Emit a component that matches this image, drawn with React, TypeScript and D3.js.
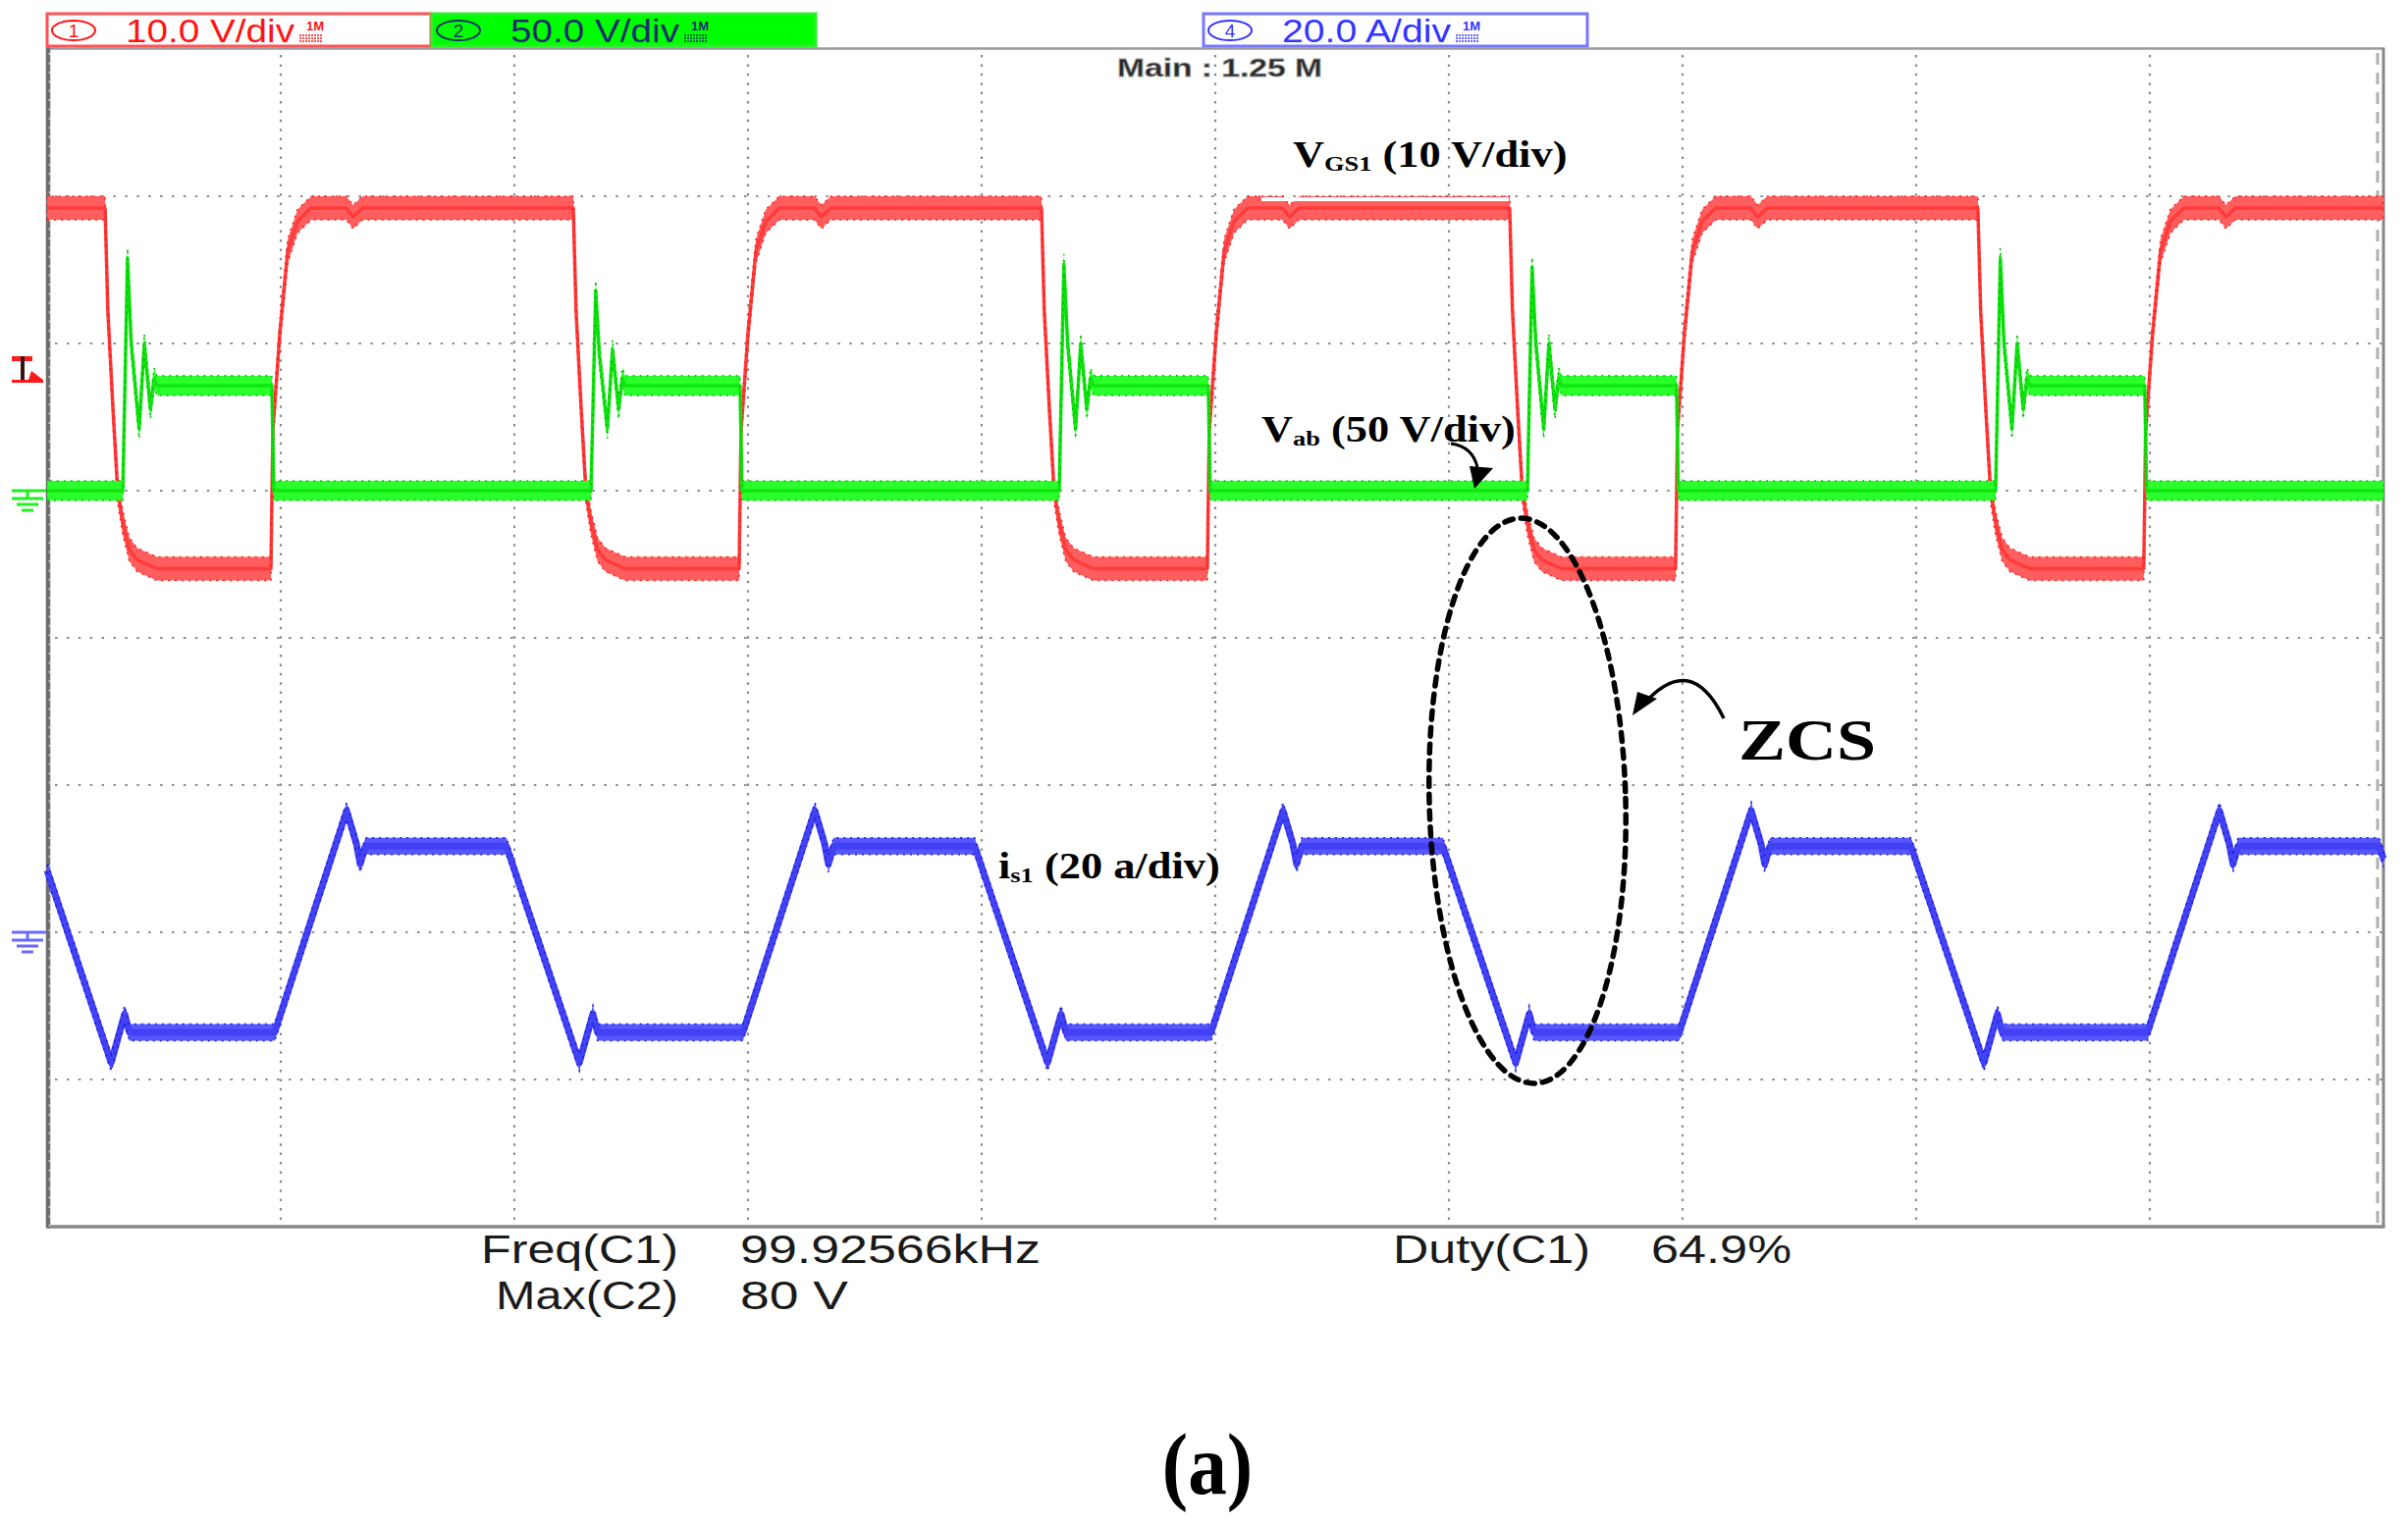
import * as d3 from "d3";

// scope screen: 10 div x 8 div, 5 us/div
const timeDomain = [0, 50];
const hGridDivs = [-3, -2, -1, 0, 1, 2, 3];
const vGridTimes = [5, 10, 15, 20, 25, 30, 35, 40, 45];

// channel settings (units per div, ground position in div from centre)
const channelNums = ["1", "2", "4"];
const channelScaleLabels = ["10.0 V/div", "50.0 V/div", "20.0 A/div"];
const channelScales = [10, 50, 20];
const channelGround = [1, 1, -2];

// C1: VGS1 [us, V]
const vgsPoints: [number, number][] = [
  [0, 19.2],
  [1.24, 19.2], [1.30, 12.2], [1.41, 5.5], [1.51, 0], [1.62, -2.2], [1.76, -4.0], [1.93, -4.7], [2.35, -5.3],
  [4.79, -5.3], [4.83, 4.0], [4.98, 10.7], [5.15, 16.3], [5.36, 18.3], [5.65, 19.2], [6.40, 19.2], [6.55, 18.6], [6.75, 19.2],
  [11.26, 19.2], [11.32, 12.2], [11.43, 5.5], [11.53, 0], [11.64, -2.2], [11.78, -4.0], [11.95, -4.7], [12.37, -5.3],
  [14.81, -5.3], [14.85, 4.0], [15.00, 10.7], [15.17, 16.3], [15.38, 18.3], [15.67, 19.2], [16.42, 19.2], [16.57, 18.6], [16.77, 19.2],
  [21.28, 19.2], [21.34, 12.2], [21.45, 5.5], [21.55, 0], [21.66, -2.2], [21.80, -4.0], [21.97, -4.7], [22.39, -5.3],
  [24.83, -5.3], [24.87, 4.0], [25.02, 10.7], [25.19, 16.3], [25.40, 18.3], [25.69, 19.2], [26.44, 19.2], [26.59, 18.6], [26.79, 19.2],
  [31.30, 19.2], [31.36, 12.2], [31.47, 5.5], [31.57, 0], [31.68, -2.2], [31.82, -4.0], [31.99, -4.7], [32.41, -5.3],
  [34.85, -5.3], [34.89, 4.0], [35.04, 10.7], [35.21, 16.3], [35.42, 18.3], [35.71, 19.2], [36.46, 19.2], [36.61, 18.6], [36.81, 19.2],
  [41.32, 19.2], [41.38, 12.2], [41.49, 5.5], [41.59, 0], [41.70, -2.2], [41.84, -4.0], [42.01, -4.7], [42.43, -5.3],
  [44.87, -5.3], [44.91, 4.0], [45.06, 10.7], [45.23, 16.3], [45.44, 18.3], [45.73, 19.2], [46.48, 19.2], [46.63, 18.6], [46.83, 19.2],
  [50, 19.2],
];

// C2: Vab [us, V]
const vabPoints: [number, number][] = [
  [0, 0],
  [1.62, 0], [1.72, 79], [1.80, 50], [1.97, 21], [2.08, 50], [2.21, 27.7], [2.29, 38.3], [2.35, 35.7], [4.81, 35.7], [4.85, 0],
  [11.64, 0], [11.74, 68], [11.82, 46], [11.99, 21], [12.10, 48], [12.23, 27.7], [12.31, 38.3], [12.37, 35.7], [14.83, 35.7], [14.87, 0],
  [21.66, 0], [21.76, 77], [21.84, 50], [22.01, 21], [22.12, 50], [22.25, 27.7], [22.33, 38.3], [22.39, 35.7], [24.85, 35.7], [24.89, 0],
  [31.68, 0], [31.78, 76], [31.86, 50], [32.03, 21], [32.14, 50], [32.27, 27.7], [32.35, 38.3], [32.41, 35.7], [34.87, 35.7], [34.91, 0],
  [41.70, 0], [41.80, 79], [41.88, 50], [42.05, 21], [42.16, 50], [42.29, 27.7], [42.37, 38.3], [42.43, 35.7], [44.89, 35.7], [44.93, 0],
  [50, 0],
];

// C4: is1 [us, A]
const isPoints: [number, number][] = [
  [0, 8.4],
  [1.37, -17.7], [1.66, -11.1], [1.76, -13.6], [4.87, -13.6], [6.41, 16.5], [6.62, 12.0], [6.70, 9.3], [6.81, 11.7], [9.83, 11.7],
  [11.39, -17.7], [11.68, -11.1], [11.78, -13.6], [14.89, -13.6], [16.43, 16.5], [16.64, 12.0], [16.72, 9.3], [16.83, 11.7], [19.85, 11.7],
  [21.41, -17.7], [21.70, -11.1], [21.80, -13.6], [24.91, -13.6], [26.45, 16.5], [26.66, 12.0], [26.74, 9.3], [26.85, 11.7], [29.87, 11.7],
  [31.43, -17.7], [31.72, -11.1], [31.82, -13.6], [34.93, -13.6], [36.47, 16.5], [36.68, 12.0], [36.76, 9.3], [36.87, 11.7], [39.89, 11.7],
  [41.45, -17.7], [41.74, -11.1], [41.84, -13.6], [44.95, -13.6], [46.49, 16.5], [46.70, 12.0], [46.78, 9.3], [46.89, 11.7], [49.91, 11.7],
  [50, 10.0],
];

// measurement readout
const measLabels = ["Freq(C1)", "Max(C2)", "Duty(C1)"];
const measValues = ["99.92566kHz", "80 V", "64.9%"];

const W = 2453;
const H = 1555;
const L = 48, R = 2428, T = 50, B = 1250;

function HeaderBox({ x0, i, fill, stroke, color }: any) {
  return (
    <g>
      <rect x={x0} y={14} width={391} height={33} fill={fill} stroke={stroke} strokeWidth={3} />
      <ellipse cx={x0 + 27} cy={31} rx={22} ry={10} fill="none" stroke={color} strokeWidth={2} />
      <text x={x0 + 27} y={38} fontSize={19} textAnchor="middle" fill={color} fontFamily="Liberation Sans, Arial, sans-serif">
        {channelNums[i]}
      </text>
      <text x={x0 + 80} y={43} fontSize={33} fill={color} textLength={172} lengthAdjust="spacingAndGlyphs" fontFamily="Liberation Sans, Arial, sans-serif">
        {channelScaleLabels[i]}
      </text>
      <text x={x0 + 264} y={31} fontSize={13} fontWeight="bold" fill={color} fontFamily="Liberation Sans, Arial, sans-serif">1M</text>
      <line x1={x0 + 257} x2={x0 + 281} y1={36} y2={36} stroke={color} strokeWidth={1.5} strokeDasharray="2 1" />
      <line x1={x0 + 257} x2={x0 + 281} y1={39} y2={39} stroke={color} strokeWidth={1.5} strokeDasharray="2 1" />
      <line x1={x0 + 257} x2={x0 + 281} y1={42} y2={42} stroke={color} strokeWidth={1.5} strokeDasharray="2 1" />
    </g>
  );
}

export default function App() {
  const x = d3.scaleLinear().domain(timeDomain).range([L, R]);
  const yDiv = d3.scaleLinear().domain([-4, 4]).range([B, T]);
  const yCh = (c: number) => (v: number) => yDiv(channelGround[c] + v / channelScales[c]);

  const traces = [
    { pts: vgsPoints, c: 0, hw: 12, fill: "#ff5e5e", edge: "#ff1f1f", line: "#ff3a3a", lw: 3.5 },
    { pts: vabPoints, c: 1, hw: 10, fill: "#2bff2b", edge: "#00c800", line: "#10e610", lw: 3.5 },
    { pts: isPoints, c: 2, hw: 8.5, fill: "#5656ff", edge: "#1c1ce0", line: "#4242f4", lw: 7 },
  ];

  const serif = "Liberation Serif, Times New Roman, serif";
  const sans = "Liberation Sans, Arial, sans-serif";

  return (
    <svg width={W} height={H} style={{ position: "absolute", left: 0, top: 0, background: "#fff" }}>
      <rect width={W} height={H} fill="#fff" />

      {/* header channel boxes */}
      <HeaderBox x0={48} i={0} fill="#ffffff" stroke="#ff5252" color="#ff1414" />
      <HeaderBox x0={440} i={1} fill="#00ff00" stroke="#2cf02c" color="#1c2d6e" />
      <HeaderBox x0={1226} i={2} fill="#ffffff" stroke="#7676ff" color="#3535ff" />
      <text x={1138} y={78} fontSize={25} fontWeight="bold" fill="#2a2a2a" stroke="#9a9a9a" strokeWidth={0.8}
        textLength={209} lengthAdjust="spacingAndGlyphs" fontFamily={sans}>
        Main : 1.25 M
      </text>

      {/* grid */}
      {hGridDivs.map((d) => (
        <line key={"h" + d} x1={L + 8} x2={R} y1={yDiv(d)} y2={yDiv(d)} stroke="#8c8c8c" strokeWidth={2.2} strokeDasharray="2.5 9.4" />
      ))}
      {vGridTimes.map((t) => (
        <line key={"v" + t} x1={x(t)} x2={x(t)} y1={T + 6} y2={B - 3} stroke="#8c8c8c" strokeWidth={2.2} strokeDasharray="2.5 6.9" />
      ))}

      {/* frame */}
      <line x1={L} x2={R} y1={T - 0.5} y2={T - 0.5} stroke="#9a9a9a" strokeWidth={2.5} />
      <line x1={L} x2={R + 1.5} y1={B} y2={B} stroke="#888" strokeWidth={3.5} />
      <line x1={R} x2={R} y1={T - 1.5} y2={B} stroke="#888" strokeWidth={3} />
      <line x1={R - 6} x2={R - 6} y1={T + 4} y2={B - 4} stroke="#b0b0b0" strokeWidth={3} strokeDasharray="12 8" />
      <line x1={L + 1} x2={L + 1} y1={T - 1.5} y2={B + 1.5} stroke="#6e6e6e" strokeWidth={4.5} />
      <line x1={L + 2.5} x2={L + 2.5} y1={T + 4} y2={B} stroke="#d8d8d8" strokeWidth={1.5} strokeDasharray="2 7.4" />

      {/* traces: noise band plus trace line */}
      {traces.map((tr) => {
        const y = yCh(tr.c);
        const band = d3
          .area<[number, number]>()
          .x((d) => x(d[0]))
          .y0((d) => y(d[1]) - tr.hw)
          .y1((d) => y(d[1]) + tr.hw);
        const line = d3
          .line<[number, number]>()
          .x((d) => x(d[0]))
          .y((d) => y(d[1]));
        return (
          <g key={tr.c}>
            <path d={band(tr.pts) || ""} fill={tr.fill} stroke="none" />
            <path d={line(tr.pts) || ""} fill="none" stroke={tr.line} strokeWidth={tr.lw} strokeLinejoin="round" />
            <path d={band(tr.pts) || ""} fill="none" stroke={tr.edge} strokeWidth={1.6} strokeDasharray="2 5" />
          </g>
        );
      })}

      {/* white strip over VGS1 plateau */}
      <rect x={1285} y={201} width={252} height={4} fill="#fff" />

      {/* left markers */}
      <g>
        <rect x={12} y={363} width={21} height={5} fill="#ff1a1a" />
        <rect x={21} y={363} width={4} height={26} fill="#3a1010" />
        <rect x={12} y={387} width={32} height={3} fill="#ff1a1a" />
        <path d="M29,387 L44,387 L32,378 Z" fill="#ff1a1a" />
      </g>
      {[0, 2].map((c) => {
        const gy = yDiv(channelGround[c]);
        const col = c === 0 ? "#22ee22" : "#6a6aff";
        return (
          <g key={"g" + c} stroke={col} strokeWidth={3}>
            <line x1={12} x2={47} y1={gy} y2={gy} />
            <line x1={28} x2={28} y1={gy} y2={gy + 8} />
            <line x1={12} x2={44} y1={gy + 8} y2={gy + 8} />
            <line x1={17} x2={39} y1={gy + 14} y2={gy + 14} />
            <line x1={22} x2={34} y1={gy + 20} y2={gy + 20} />
          </g>
        );
      })}

      {/* annotations */}
      <g transform="translate(1317,170) scale(1.2,1)" fontFamily={serif} fontWeight="bold" fill="#000">
        <text fontSize={37}>
          V<tspan fontSize={22} dy={4}>GS1</tspan>
          <tspan dy={-4}> (10 V/div)</tspan>
        </text>
      </g>
      <g transform="translate(1285,450) scale(1.2,1)" fontFamily={serif} fontWeight="bold" fill="#000">
        <text fontSize={37}>
          V<tspan fontSize={22} dy={4}>ab</tspan>
          <tspan dy={-4}> (50 V/div)</tspan>
        </text>
      </g>
      <g transform="translate(1017,895) scale(1.2,1)" fontFamily={serif} fontWeight="bold" fill="#000">
        <text fontSize={37}>
          i<tspan fontSize={22} dy={4}>s1</tspan>
          <tspan dy={-4}> (20 a/div)</tspan>
        </text>
      </g>
      <path d="M1478,452 Q1500,455 1505,476" fill="none" stroke="#000" strokeWidth={3} />
      <path d="M1502,498 L1497,475 L1521,477 Z" fill="#000" />

      <ellipse cx={1556} cy={816} rx={100} ry={288} transform="rotate(-1.5 1556 816)" fill="none" stroke="#000"
        strokeWidth={5.5} strokeDasharray="9 8" strokeLinecap="round" />
      <path d="M1756,732 Q1722,662 1673,719" fill="none" stroke="#000" strokeWidth={3.5} />
      <path d="M1663,729 L1668,705 L1688,712 Z" fill="#000" />
      <g transform="translate(1771,774) scale(1.2,1)">
        <text fontSize={60} fontFamily={serif} fontWeight="bold" fill="#000">ZCS</text>
      </g>

      {/* measurements */}
      <g fontFamily={sans} fontSize={41} fill="#1a1a1a">
        <text x={691} y={1287} textAnchor="end" textLength={201} lengthAdjust="spacingAndGlyphs">{measLabels[0]}</text>
        <text x={754} y={1287} textLength={306} lengthAdjust="spacingAndGlyphs">{measValues[0]}</text>
        <text x={691} y={1334} textAnchor="end" textLength={186} lengthAdjust="spacingAndGlyphs">{measLabels[1]}</text>
        <text x={754} y={1334} textLength={110} lengthAdjust="spacingAndGlyphs">{measValues[1]}</text>
        <text x={1419} y={1287} textLength={201} lengthAdjust="spacingAndGlyphs">{measLabels[2]}</text>
        <text x={1682} y={1287} textLength={143} lengthAdjust="spacingAndGlyphs">{measValues[2]}</text>
      </g>

      <g transform="translate(1230,1522) scale(0.9,1)">
        <text fontSize={88} fontFamily={serif} fontWeight="bold" textAnchor="middle" fill="#000">(a)</text>
      </g>
    </svg>
  );
}
